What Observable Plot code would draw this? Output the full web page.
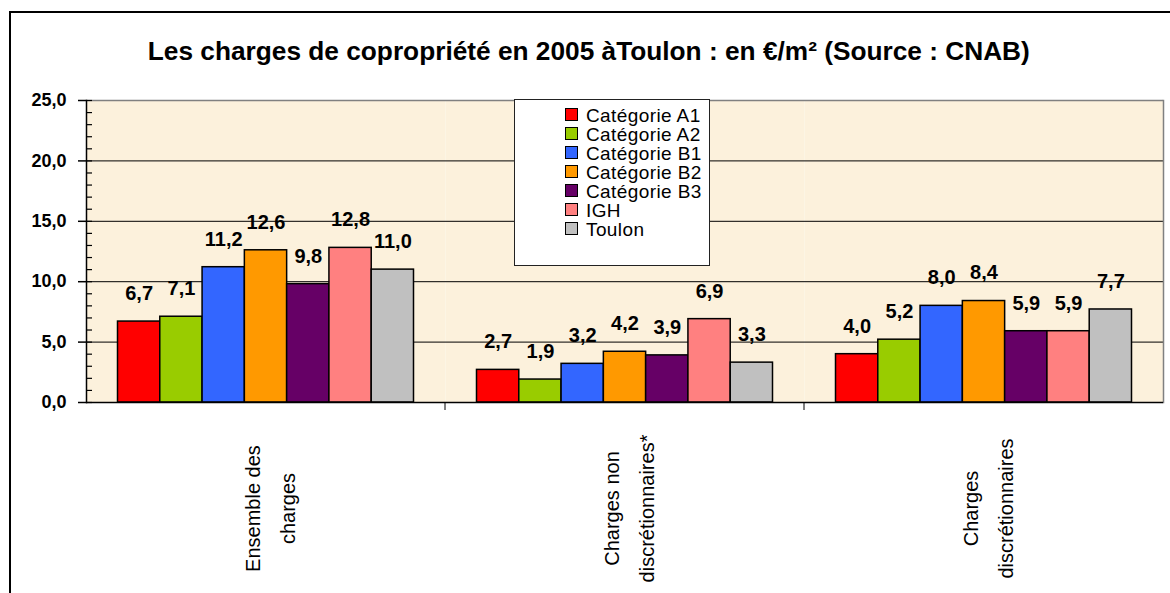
<!DOCTYPE html>
<html><head><meta charset="utf-8">
<script src="https://cdn.jsdelivr.net/npm/d3@7"></script>
<script src="https://cdn.jsdelivr.net/npm/@observablehq/plot@0.6"></script>
<style>
body{margin:0;background:#fff;}
#wrap{position:relative;width:1170px;height:593px;overflow:hidden;background:#fff;}
#border{position:absolute;left:9px;top:11px;width:1300px;height:800px;border-top:2px solid #000;border-left:2px solid #000;}
#title{position:absolute;left:0;top:36px;width:1178px;text-align:center;font-family:"Liberation Sans",Arial,sans-serif;font-weight:bold;font-size:26px;white-space:nowrap;}
#title span{display:inline-block;transform-origin:center center;}
#chart{position:absolute;left:0;top:85px;}
#legend{position:absolute;left:514px;top:99px;width:196px;height:167px;background:#fff;border:1.5px solid #222;box-sizing:border-box;font-family:"Liberation Sans",Arial,sans-serif;font-size:19px;}
#legend .row{position:absolute;left:50px;height:19px;line-height:19px;white-space:nowrap;}
#legend .sw{display:inline-block;width:11px;height:11px;border:1.5px solid #000;vertical-align:middle;margin-right:8px;position:relative;top:-2px;}
#legend .lab{letter-spacing:0.4px;}
</style></head>
<body><div id="wrap"><div id="border"></div><div id="title"><span>Les charges de copropriété en 2005 àToulon : en €/m² (Source : CNAB)</span></div><div id="chart"></div><div id="legend"></div></div>
<script>
const groups = ["Ensemble des\ncharges", "Charges non\ndiscrétionnaires*", "Charges\ndiscrétionnaires"];
const series = ["Catégorie A1", "Catégorie A2", "Catégorie B1", "Catégorie B2", "Catégorie B3", "IGH", "Toulon"];
const ensembleValues = [6.7, 7.1, 11.2, 12.6, 9.8, 12.8, 11.0];
const nonDiscValues = [2.7, 1.9, 3.2, 4.2, 3.9, 6.9, 3.3];
const discValues = [4.0, 5.2, 8.0, 8.4, 5.9, 5.9, 7.7];
const colors = ["#ff0000", "#99cc00", "#3366ff", "#ff9900", "#660066", "#ff8080", "#c0c0c0"];
const yTicks = [0, 5, 10, 15, 20, 25];
const yMinorTicks = d3.range(0, 26, 1);

const valueSets = [ensembleValues, nonDiscValues, discValues];
const data = groups.flatMap((g, gi) => series.map((s, si) => ({group: g, series: s, value: valueSets[gi][si]})));
const fmt = d => d.toFixed(1).replace(".", ",");

const plot = Plot.plot({
  width: 1170, height: 508,
  marginLeft: 86, marginRight: 7, marginTop: 15, marginBottom: 191,
  style: {fontFamily: "Liberation Sans, Arial, sans-serif", background: "transparent", overflow: "visible", color: "#000"},
  fx: {domain: groups, padding: 0, label: null},
  x: {domain: series, paddingInner: 0, paddingOuter: 0.745, axis: null, round: false},
  y: {domain: [0, 25], label: null},
  color: {domain: series, range: colors},
  marks: [
    Plot.frame({fill: "#fcf1dc", stroke: "none"}),
    Plot.gridY(yTicks.filter(t => t > 0 && t < 25), {stroke: "#000", strokeOpacity: 1, strokeWidth: 1}),
    Plot.ruleY([25], {stroke: "#808080", strokeWidth: 1.5}),
    Plot.frame({anchor: "right", facetAnchor: "right", stroke: "#808080", strokeWidth: 1.5}),
    Plot.frame({anchor: "left", facetAnchor: "left", stroke: "#000", strokeWidth: 1.5}),
    Plot.barY(data, {fx: "group", x: "series", y: "value", fill: "series", stroke: "#000", strokeWidth: 1.5, inset: 0}),
    Plot.ruleY([0], {stroke: "#000", strokeWidth: 1.5}),
    Plot.text(data, {fx: "group", x: "series", y: "value", text: d => fmt(d.value), dy: -28, fontSize: 20, fontWeight: "bold", fill: "#000"}),
    Plot.axisY(yTicks, {tickFormat: fmt, tickSize: 8, tickPadding: 12, fontSize: 18, fontWeight: "bold", label: null, strokeWidth: 1.5}),
    Plot.axisY(yMinorTicks, {tickFormat: () => "", tickSize: -6, label: null, strokeWidth: 1.2}),
    Plot.axisFx({anchor: "bottom", tickSize: 0, tickRotate: -90, tickPadding: 106, textAnchor: "middle", lineAnchor: "middle", lineHeight: 1.75, fontSize: 20, label: null})
  ]
});

// group boundary ticks below the category axis (Excel style), positioned from the fx scale
const fxs = plot.scale("fx");
const ys = plot.scale("y");
const y0 = ys.apply(0);
const svg = d3.select(plot.tagName.toLowerCase() === "svg" ? plot : plot.querySelector("svg"));
groups.slice(1).forEach(g => {
  const xb = fxs.apply(g);
  svg.append("line").attr("x1", xb).attr("x2", xb).attr("y1", y0).attr("y2", y0 + 8).attr("stroke", "#000").attr("stroke-width", 1);
});
document.getElementById("chart").appendChild(plot);

// legend
const legend = d3.select("#legend");
series.forEach((s, i) => {
  const row = legend.append("div").attr("class", "row").style("top", (6 + i * 19) + "px");
  row.append("span").attr("class", "sw").style("background", colors[i]);
  row.append("span").attr("class", "lab").text(s);
});

// fit title width to reference
const tspan = document.querySelector("#title span");
const w = tspan.getBoundingClientRect().width;
tspan.style.transform = `scaleX(${882 / w})`;
</script>
</body></html>
